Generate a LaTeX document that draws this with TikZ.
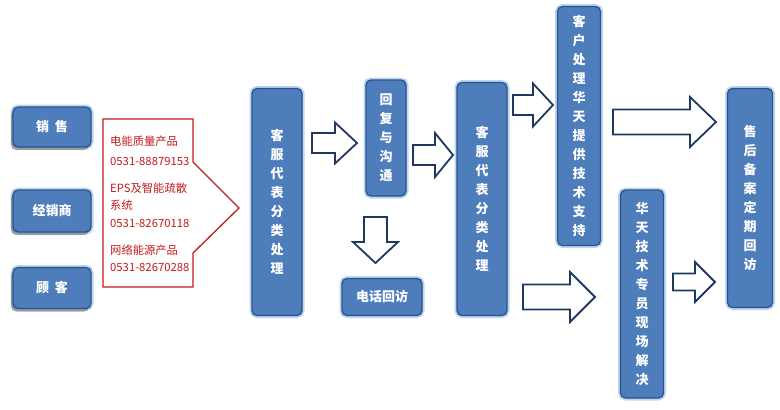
\documentclass[tikz,border=0pt]{standalone}
\usepackage{fontspec}
\usepackage{xcolor}
\usepackage{tikz}
\usetikzlibrary{shadows}
\newfontfamily\cjk{Noto Sans CJK SC}
\definecolor{boxblu}{HTML}{4E7DBC}
\definecolor{bordoblu}{HTML}{2C5286}
\definecolor{alone}{HTML}{BBD6F2}
\definecolor{frecciablu}{HTML}{1F3A60}
\definecolor{rosso}{HTML}{C41A1A}

\tikzset{
    casella/.style={draw=bordoblu, line width=1.3pt, fill=boxblu, rounded corners=5pt,
        preaction={draw=alone, line width=5pt, rounded corners=6pt},
        text=white, align=center, inner sep=0pt,
        font=\cjk\bfseries\fontsize{13}{19}\selectfont},
    ombra/.style={drop shadow={shadow xshift=-2pt, shadow yshift=-3pt, fill=black!55, opacity=.6}},
    blocco/.style={draw=frecciablu, line width=1.8pt, fill=white, line join=miter}
}
% freccia a blocco orizzontale: coda, collo, punta, y, mezzo fusto, mezza testa
\newcommand{\frecciadx}[6]{%
    \draw[blocco] (#1,{#4-#5}) -- (#2,{#4-#5}) -- (#2,{#4-#6}) -- (#3,#4)
        -- (#2,{#4+#6}) -- (#2,{#4+#5}) -- (#1,{#4+#5}) -- cycle;}

\begin{document}
\begin{tikzpicture}[x=1pt, y=-1pt]
    \useasboundingbox (0,0) rectangle (780,410);

    % Clienti a sinistra
    \node[casella, ombra, minimum width=78pt, minimum height=40pt] (xs) at (52,127) {销\ \ 售};
    \node[casella, ombra, minimum width=78pt, minimum height=42pt] (jxs) at (52,211) {经销商};
    \node[casella, ombra, minimum width=78pt, minimum height=41pt] (gk) at (52,288) {顾\ \ 客};

    % Riquadro rosso con i numeri
    \draw[rosso, line width=1.3pt] (103,119) -- (193,119) -- (193,162) -- (239,208)
        -- (193,253) -- (193,287) -- (103,287) -- cycle;
    \node[rosso, anchor=north west, align=left, inner sep=0pt,
          font=\cjk\fontsize{11.3}{17}\selectfont] (tel) at (110,136)
        {电能质量产品\\[3pt] 0531-88879153\\[10pt] EPS及智能疏散\\ 系统\\[1pt]
         0531-82670118\\[10pt] 网络能源产品\\ 0531-82670288};

    % Caselle centrali
    \node[casella, minimum width=50pt, minimum height=227pt] (kf1) at (277,202) {客\\服\\代\\表\\分\\类\\处\\理};
    \node[casella, minimum width=40pt, minimum height=116pt] (hf) at (386,138) {回\\复\\与\\沟\\通};
    \node[casella, minimum width=80pt, minimum height=37pt] (dh) at (382,297) {电话回访};
    \node[casella, minimum width=50pt, minimum height=233pt] (kf2) at (482,199) {客\\服\\代\\表\\分\\类\\处\\理};

    % Caselle a destra
    \node[casella, minimum width=43pt, minimum height=239pt] (kh) at (579,126) {客\\户\\处\\理\\华\\天\\提\\供\\技\\术\\支\\持};
    \node[casella, minimum width=43pt, minimum height=208pt] (ht) at (642,294) {华\\天\\技\\术\\专\\员\\现\\场\\解\\决};
    \node[casella, minimum width=45pt, minimum height=219pt] (sh) at (750,198) {售\\后\\备\\案\\定\\期\\回\\访};

    % Frecce a blocco
    \frecciadx{312}{335}{357}{143}{10}{20.5}
    \frecciadx{413}{435}{453}{155}{10}{22}
    \frecciadx{513}{533}{553}{105}{10}{21.5}
    \frecciadx{613}{690}{716}{122}{12.5}{25}
    \frecciadx{523}{570}{595}{297}{12.5}{25}
    \frecciadx{673}{695}{715}{282}{8.5}{20}
    % Freccia verso il basso
    \draw[blocco] (364,217) -- (387,217) -- (387,242) -- (398,242) -- (375.5,263)
        -- (353,242) -- (364,242) -- cycle;
\end{tikzpicture}
\end{document}
